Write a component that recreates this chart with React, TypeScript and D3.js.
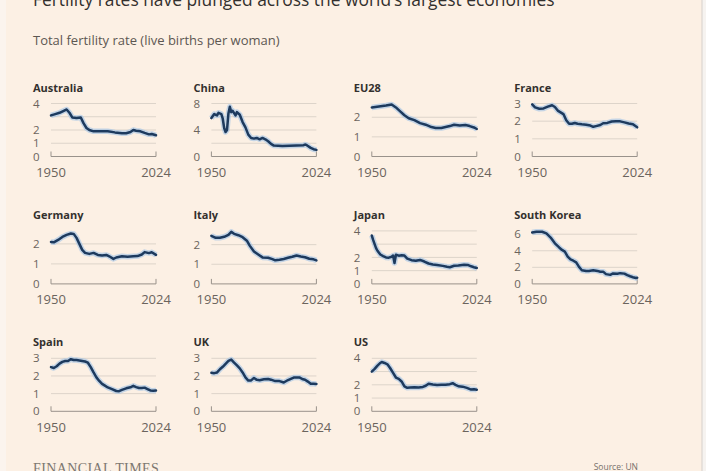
import { useEffect, useRef } from 'react';
import * as d3 from 'd3';

type Pt = [number, number];

// Total fertility rate
const australia: Pt[] = [
  [1950, 3.1], [1953, 3.2], [1956, 3.3], [1959, 3.45], [1961, 3.55], [1963, 3.3], [1965, 2.95],
  [1968, 2.9], [1971, 2.95], [1973, 2.5], [1975, 2.15], [1977, 2.0], [1980, 1.9], [1985, 1.9],
  [1990, 1.9], [1995, 1.82], [2000, 1.76], [2003, 1.76], [2006, 1.85], [2008, 2.0], [2010, 1.95],
  [2013, 1.9], [2016, 1.78], [2019, 1.67], [2021, 1.7], [2024, 1.6],
];
const china: Pt[] = [
  [1950, 5.8], [1952, 6.4], [1954, 6.2], [1955, 6.6], [1957, 6.4], [1958, 5.7], [1959, 4.3],
  [1960, 3.7], [1961, 4.0], [1962, 6.5], [1963, 7.5], [1964, 6.7], [1965, 6.9], [1967, 6.2],
  [1968, 6.7], [1970, 6.3], [1972, 5.2], [1974, 4.4], [1976, 3.3], [1978, 2.8], [1980, 2.7],
  [1982, 2.8], [1984, 2.6], [1986, 2.8], [1988, 2.6], [1990, 2.3], [1992, 1.9], [1994, 1.65],
  [2000, 1.6], [2005, 1.62], [2010, 1.66], [2015, 1.7], [2016, 1.8], [2017, 1.75], [2018, 1.6],
  [2020, 1.3], [2022, 1.1], [2024, 1.0],
];
const eu28: Pt[] = [
  [1950, 2.5], [1955, 2.55], [1960, 2.6], [1964, 2.65], [1967, 2.5], [1970, 2.3], [1973, 2.1],
  [1976, 1.95], [1980, 1.85], [1984, 1.7], [1988, 1.62], [1992, 1.5], [1995, 1.45], [1999, 1.45],
  [2002, 1.5], [2005, 1.55], [2008, 1.62], [2012, 1.58], [2016, 1.6], [2019, 1.55], [2022, 1.48],
  [2024, 1.4],
];
const france: Pt[] = [
  [1950, 2.95], [1952, 2.78], [1955, 2.7], [1958, 2.72], [1961, 2.82], [1964, 2.9], [1966, 2.8],
  [1968, 2.6], [1970, 2.5], [1972, 2.4], [1974, 2.05], [1976, 1.85], [1978, 1.85], [1980, 1.9],
  [1982, 1.85], [1985, 1.82], [1988, 1.8], [1991, 1.75], [1993, 1.68], [1995, 1.72], [1998, 1.78],
  [2000, 1.88], [2003, 1.9], [2006, 1.98], [2009, 2.0], [2012, 1.99], [2015, 1.93], [2018, 1.87],
  [2021, 1.82], [2024, 1.65],
];
const germany: Pt[] = [
  [1950, 2.1], [1952, 2.08], [1955, 2.2], [1958, 2.35], [1961, 2.45], [1964, 2.52], [1966, 2.5],
  [1968, 2.3], [1970, 2.0], [1972, 1.7], [1974, 1.55], [1977, 1.5], [1980, 1.55], [1983, 1.45],
  [1986, 1.42], [1989, 1.45], [1991, 1.38], [1994, 1.25], [1996, 1.32], [2000, 1.38], [2004, 1.36],
  [2008, 1.38], [2011, 1.39], [2014, 1.47], [2016, 1.59], [2019, 1.54], [2021, 1.58], [2024, 1.45],
];
const italy: Pt[] = [
  [1950, 2.45], [1953, 2.35], [1956, 2.35], [1959, 2.4], [1962, 2.5], [1964, 2.65], [1966, 2.55],
  [1969, 2.48], [1972, 2.38], [1975, 2.2], [1977, 1.95], [1980, 1.65], [1983, 1.5], [1986, 1.35],
  [1990, 1.33], [1993, 1.26], [1995, 1.2], [1998, 1.23], [2001, 1.27], [2004, 1.33], [2007, 1.38],
  [2010, 1.45], [2013, 1.4], [2016, 1.36], [2019, 1.28], [2022, 1.25], [2024, 1.2],
];
const japan: Pt[] = [
  [1950, 3.65], [1951, 3.3], [1952, 3.0], [1953, 2.7], [1954, 2.5], [1956, 2.22], [1958, 2.1],
  [1960, 2.0], [1962, 1.98], [1964, 2.05], [1965, 2.14], [1966, 1.58], [1967, 2.2], [1969, 2.13],
  [1971, 2.16], [1973, 2.14], [1975, 1.91], [1978, 1.79], [1981, 1.74], [1984, 1.81], [1987, 1.69],
  [1990, 1.54], [1993, 1.46], [1996, 1.43], [2000, 1.36], [2003, 1.29], [2005, 1.26], [2008, 1.37],
  [2011, 1.39], [2015, 1.45], [2018, 1.42], [2020, 1.33], [2022, 1.26], [2024, 1.2],
];
const southKorea: Pt[] = [
  [1950, 6.2], [1953, 6.3], [1957, 6.3], [1960, 6.1], [1963, 5.6], [1966, 4.9], [1969, 4.4],
  [1971, 4.1], [1973, 3.9], [1975, 3.3], [1977, 2.95], [1979, 2.8], [1981, 2.6], [1983, 2.05],
  [1985, 1.65], [1988, 1.55], [1990, 1.57], [1993, 1.65], [1996, 1.57], [1998, 1.46], [2000, 1.48],
  [2002, 1.18], [2005, 1.09], [2007, 1.26], [2010, 1.23], [2012, 1.3], [2015, 1.24], [2017, 1.05],
  [2019, 0.92], [2021, 0.81], [2023, 0.72], [2024, 0.75],
];
const spain: Pt[] = [
  [1950, 2.5], [1952, 2.45], [1954, 2.55], [1956, 2.7], [1958, 2.8], [1960, 2.85], [1962, 2.85],
  [1964, 2.95], [1966, 2.9], [1968, 2.9], [1970, 2.88], [1972, 2.85], [1974, 2.82], [1976, 2.75],
  [1978, 2.5], [1980, 2.2], [1982, 1.92], [1984, 1.72], [1986, 1.55], [1988, 1.45], [1990, 1.35],
  [1993, 1.25], [1996, 1.15], [1998, 1.14], [2000, 1.21], [2003, 1.3], [2006, 1.36], [2008, 1.44],
  [2010, 1.37], [2012, 1.32], [2014, 1.32], [2016, 1.34], [2018, 1.26], [2020, 1.18], [2022, 1.17],
  [2024, 1.18],
];
const uk: Pt[] = [
  [1950, 2.18], [1952, 2.16], [1954, 2.2], [1956, 2.38], [1958, 2.52], [1960, 2.69], [1962, 2.85],
  [1964, 2.93], [1966, 2.76], [1968, 2.6], [1970, 2.43], [1972, 2.2], [1974, 1.92], [1976, 1.74],
  [1978, 1.75], [1980, 1.89], [1982, 1.78], [1984, 1.76], [1987, 1.81], [1990, 1.83], [1992, 1.79],
  [1995, 1.71], [1998, 1.71], [2001, 1.63], [2004, 1.77], [2006, 1.84], [2008, 1.91], [2010, 1.92],
  [2012, 1.92], [2014, 1.83], [2016, 1.79], [2018, 1.68], [2020, 1.56], [2022, 1.56], [2024, 1.55],
];
const us: Pt[] = [
  [1950, 3.0], [1952, 3.2], [1954, 3.45], [1956, 3.65], [1957, 3.72], [1959, 3.65], [1961, 3.55],
  [1963, 3.25], [1965, 2.9], [1967, 2.55], [1969, 2.45], [1971, 2.25], [1973, 1.88], [1975, 1.77],
  [1977, 1.79], [1980, 1.82], [1983, 1.8], [1986, 1.84], [1988, 1.93], [1990, 2.08], [1993, 2.02],
  [1996, 1.98], [1999, 2.0], [2002, 2.01], [2005, 2.05], [2007, 2.12], [2009, 2.0], [2011, 1.89],
  [2014, 1.86], [2017, 1.77], [2020, 1.64], [2022, 1.66], [2024, 1.62],
];

const xTicks = [1950, 2024];

const panels = [
  { name: 'Australia', data: australia, max: 4, labels: [0, 1, 2, 4], grid: [1, 2, 3, 4] },
  { name: 'China', data: china, max: 8, labels: [0, 4, 8], grid: [2, 4, 6, 8] },
  { name: 'EU28', data: eu28, max: 2.7, labels: [0, 1, 2], grid: [1, 2] },
  { name: 'France', data: france, max: 3, labels: [0, 1, 2, 3], grid: [1, 2, 3] },
  { name: 'Germany', data: germany, max: 2.65, labels: [0, 1, 2], grid: [1, 2] },
  { name: 'Italy', data: italy, max: 2.7, labels: [0, 1, 2], grid: [1, 2] },
  { name: 'Japan', data: japan, max: 4, labels: [0, 1, 2, 4], grid: [1, 2, 3, 4] },
  { name: 'South Korea', data: southKorea, max: 6.4, labels: [0, 2, 4, 6], grid: [2, 4, 6] },
  { name: 'Spain', data: spain, max: 3, labels: [0, 1, 2, 3], grid: [1, 2, 3] },
  { name: 'UK', data: uk, max: 3, labels: [0, 1, 2, 3], grid: [1, 2, 3] },
  { name: 'US', data: us, max: 4, labels: [0, 1, 2, 4], grid: [1, 2, 3, 4] },
];

const W = 706;
const H = 471;
const FONT = '"Open Sans", "Noto Sans", sans-serif';

export default function App() {
  const ref = useRef<SVGSVGElement>(null);

  useEffect(() => {
    const svg = d3.select(ref.current);
    svg.selectAll('*').remove();

    // backdrop
    svg.append('rect').attr('width', W).attr('height', H).attr('fill', '#f6f3f0');
    svg.append('rect').attr('x', 0).attr('width', 702).attr('height', H).attr('fill', '#fcf0e4');
    svg.append('rect').attr('x', 0).attr('width', 6).attr('height', H).attr('fill', '#fbf4ee');
    svg.append('line').attr('x1', 702).attr('x2', 702).attr('y1', 0).attr('y2', H)
      .attr('stroke', '#d6d1cc').attr('stroke-width', 1);

    svg.append('text').attr('x', 33).attr('y', 6)
      .attr('font-family', FONT).attr('font-size', 17.4).attr('fill', '#33302e')
      .text('Fertility rates have plunged across the world\u2019s largest economies');

    svg.append('text').attr('x', 33).attr('y', 45)
      .attr('font-family', FONT).attr('font-size', 13).attr('fill', '#5c5752')
      .text('Total fertility rate (live births per woman)');

    const colW = 160.4;
    const rowH = 127.4;
    const plotH = 53;

    panels.forEach((p, i) => {
      const c = i % 4;
      const r = Math.floor(i / 4);
      const left = 33 + c * colW;
      const x0 = 51 + c * colW;
      const base = 156.5 + r * rowH;

      const x = d3.scaleLinear().domain([1950, 2024]).range([x0, x0 + 105]);
      const y = d3.scaleLinear().domain([0, p.max]).range([base, base - plotH]);

      const g = svg.append('g');

      g.append('text').attr('x', left).attr('y', base - 65)
        .attr('font-family', FONT).attr('font-size', 11).attr('font-weight', 700)
        .attr('fill', '#33302e').text(p.name);

      // gridlines
      g.selectAll('.grid').data(p.grid).enter().append('line')
        .attr('x1', x(1950)).attr('x2', x(2024))
        .attr('y1', d => y(d)).attr('y2', d => y(d))
        .attr('stroke', '#ddd4ca').attr('stroke-width', 1);

      // baseline bracket with end ticks
      g.append('path')
        .attr('d', `M${x(1950)},${base - 5}V${base}H${x(2024)}V${base - 5}`)
        .attr('fill', 'none').attr('stroke', '#99928b').attr('stroke-width', 1);

      g.selectAll('.ylab').data(p.labels).enter().append('text')
        .attr('x', left).attr('y', d => y(d)).attr('dy', '0.36em')
        .attr('font-family', FONT).attr('font-size', 11.5).attr('fill', '#6b645d')
        .text(d => d);

      g.selectAll('.xlab').data(xTicks).enter().append('text')
        .attr('x', d => x(d)).attr('y', base + 20.5).attr('text-anchor', 'middle')
        .attr('font-family', FONT).attr('font-size', 13).attr('fill', '#6b645d')
        .text(d => d);

      const line = d3.line<Pt>().x(d => x(d[0])).y(d => y(d[1]));

      g.append('path').datum(p.data).attr('d', line)
        .attr('fill', 'none').attr('stroke', '#9fc2e6').attr('stroke-width', 5.5)
        .attr('stroke-linejoin', 'round').attr('opacity', 0.6);
      g.append('path').datum(p.data).attr('d', line)
        .attr('fill', 'none').attr('stroke', '#1d3a5e').attr('stroke-width', 2.5)
        .attr('stroke-linejoin', 'round').attr('stroke-linecap', 'round');
    });

    svg.append('text').attr('x', 33).attr('y', 473)
      .attr('font-family', '"Liberation Serif", "DejaVu Serif", serif').attr('font-size', 14)
      .attr('letter-spacing', 0.4).attr('fill', '#7d7770').text('FINANCIAL TIMES');

    svg.append('text').attr('x', 638).attr('y', 470).attr('text-anchor', 'end')
      .attr('font-family', FONT).attr('font-size', 8.5).attr('fill', '#77716b')
      .text('Source: UN');
  }, []);

  return (
    <svg ref={ref} width={W} height={H}
      style={{ position: 'fixed', left: 0, top: 0, display: 'block' }} />
  );
}
